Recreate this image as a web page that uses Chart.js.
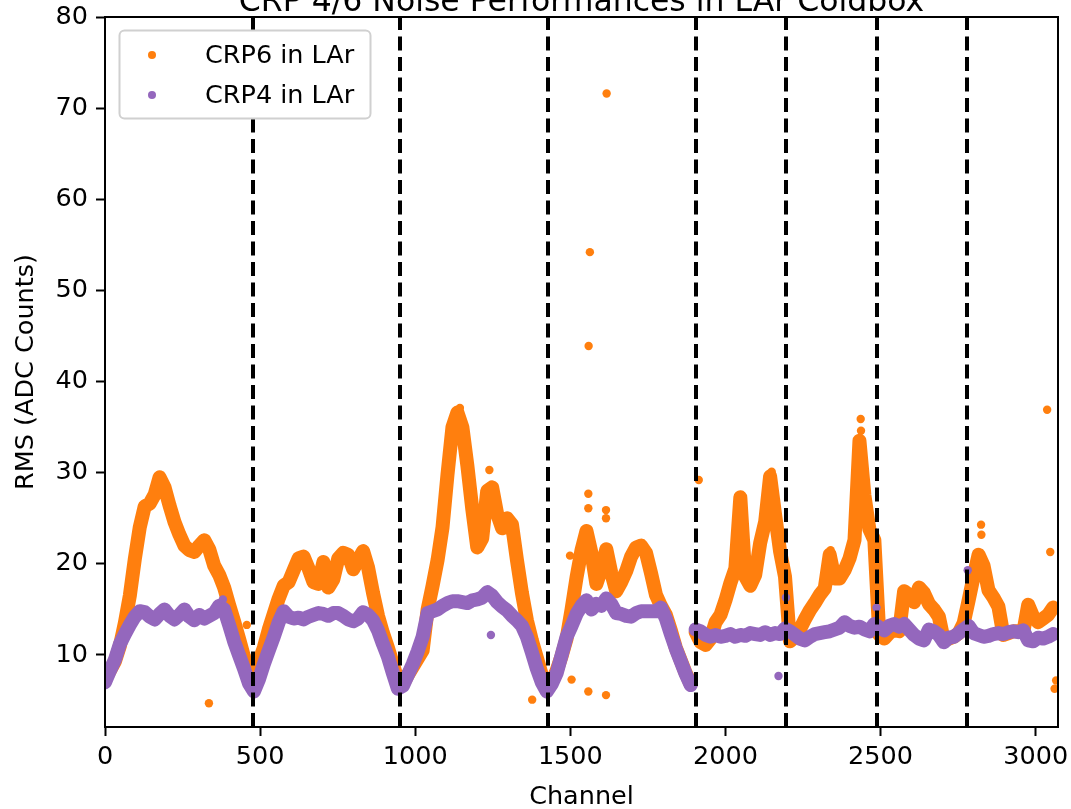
<!DOCTYPE html>
<html>
<head>
<meta charset="utf-8">
<title>CRP 4/6 Noise Performances in LAr Coldbox</title>
<script src="https://cdn.jsdelivr.net/npm/chart.js@4.4.1/dist/chart.umd.min.js"></script>
<style>
  html, body { margin: 0; padding: 0; background: #fff; }
  #wrap { width: 1071px; height: 809px; }
</style>
</head>
<body>
<div id="wrap"><canvas id="noise-chart" width="1071" height="809"></canvas></div>
<script>
// RMS per channel, one value every 16 channels (0 .. 3056)
const sampleStep = 16

const crp6Rms = [
  7.3, 8.3, 9.3, 11.0, 13.5, 16.5, 20.5, 24.0, 26.3, 26.6, 27.6, 29.5, 28.4, 26.4, 24.6, 23.2,
  22.0, 21.5, 21.3, 22.0, 22.6, 21.6, 19.8, 18.8, 17.4, 15.5, 13.7, 11.8, 9.8, 8.0, 7.0, 9.2,
  10.8, 12.8, 14.5, 16.2, 17.6, 18.0, 19.3, 20.6, 20.8, 19.5, 18.0, 17.8, 20.2, 17.4, 18.3, 20.6,
  21.2, 21.0, 19.4, 20.4, 21.4, 19.6, 16.8, 14.3, 12.4, 10.8, 9.0, 7.2, 6.8, 7.8, 8.7, 9.6,
  10.5, 15.0, 17.6, 20.4, 24.0, 29.8, 35.0, 36.6, 35.0, 30.8, 26.0, 21.8, 22.8, 28.0, 28.4, 25.5,
  23.9, 25.0, 24.3, 20.4, 16.8, 13.8, 11.6, 9.7, 7.8, 6.3, 7.0, 8.3, 9.9, 11.8, 15.0, 18.5,
  21.5, 23.6, 21.2, 17.8, 19.4, 21.6, 19.0, 17.0, 18.0, 19.2, 20.8, 21.8, 22.0, 21.2, 19.0, 16.6,
  15.4, 14.4, 12.7, 10.8, 9.4, 8.0, 6.8, 12.5, 11.4, 11.1, 11.8, 13.6, 14.4, 16.0, 17.9, 19.5,
  27.3, 18.6, 17.6, 18.8, 22.3, 24.6, 29.6, 25.4, 21.4, 18.6, 11.5, 12.0, 12.8, 13.9, 14.9, 15.7,
  16.6, 17.3, 21.0, 18.4, 18.4, 19.3, 20.6, 22.6, 33.5, 27.5, 23.8, 22.6, 12.2, 11.8, 12.4, 12.8,
  12.6, 17.0, 16.6, 15.8, 17.4, 16.8, 15.6, 15.0, 14.2, 11.6, 11.8, 12.0, 12.4, 13.5, 16.0, 18.6,
  21.0, 19.8, 17.1, 16.3, 15.3, 12.2, 12.4, 12.6, 12.6, 12.5, 15.5, 14.2, 13.6, 14.0, 14.4, 15.2
]

const crp4Rms = [
  7.0, 8.3, 9.5, 11.2, 12.3, 13.3, 14.2, 14.8, 14.7, 14.2, 13.9, 14.5, 15.0, 14.3, 13.9, 14.4,
  15.0, 14.2, 13.8, 14.4, 14.0, 14.3, 14.6, 15.4, 15.0, 13.3, 11.5, 10.0, 8.5, 6.9, 6.0, 7.3,
  9.0, 10.5, 12.0, 13.6, 14.8, 14.2, 14.0, 14.1, 13.9, 14.2, 14.4, 14.6, 14.5, 14.3, 14.6, 14.6,
  14.3, 13.9, 13.7, 14.0, 14.7, 14.4, 13.8, 12.7, 11.2, 9.8, 8.0, 6.3, 6.6, 7.8, 9.0, 10.4,
  12.0, 14.6, 14.8, 15.0, 15.4, 15.7, 15.9, 15.9, 15.8, 15.7, 16.0, 16.1, 16.3, 16.9, 16.5, 15.8,
  15.3, 14.9, 14.3, 13.8, 13.2, 12.0, 10.3, 8.5, 7.0, 6.0, 6.8, 8.0, 10.0, 12.0, 13.2, 14.5,
  15.4, 16.0, 15.0, 15.6, 15.4, 16.2, 15.6, 14.6, 14.5, 14.3, 14.2, 14.6, 14.8, 14.8, 14.8, 14.8,
  15.2, 14.0, 12.3, 10.7, 9.3, 7.9, 6.7, 12.8, 12.6, 12.2, 12.0, 12.2, 12.0, 12.1, 12.3, 12.0,
  12.2, 12.1, 12.4, 12.3, 12.2, 12.5, 12.2, 12.4, 12.3, 12.9, 12.6, 12.2, 11.8, 11.6, 12.0, 12.3,
  12.4, 12.5, 12.6, 12.8, 13.0, 13.6, 13.2, 13.0, 13.1, 12.8, 12.6, 13.4, 13.0, 12.7, 13.2, 13.4,
  13.1, 13.4, 12.8, 12.2, 11.8, 11.6, 12.8, 12.6, 12.2, 11.4, 11.9, 12.0, 12.4, 12.8, 13.2, 12.4,
  12.2, 12.0, 12.1, 12.3, 12.4, 12.3, 12.5, 12.6, 12.5, 12.7, 11.6, 11.5, 11.9, 11.8, 12.0, 12.3
]

// single noisy channels sitting off the bands: [channel, rms]
const crp6Outliers = [
  [335, 4.7], [457, 13.3], [1144, 37.1], [1239, 30.3], [1377, 5.1], [1499, 20.9], [1504, 7.3],
  [1558, 6.0], [1558, 26.1], [1558, 27.7], [1559, 43.9], [1563, 54.2],
  [1615, 5.6], [1615, 25.0], [1615, 25.9], [1617, 71.6], [1914, 29.2], [2149, 30.1],
  [2339, 21.5], [2436, 35.9], [2437, 34.6], [2824, 24.3], [2825, 23.2],
  [3037, 36.9], [3047, 21.3], [3061, 6.3], [3066, 7.2]
]
const crp4Outliers = [
  [380, 16.1], [1244, 12.2], [2171, 7.7], [2195, 16.3], [2487, 15.2], [2781, 19.3]
]

const planeEdges = [476, 952, 1428, 1904, 2196, 2488, 2780]
const collectionStart = 1904
const channelTicks = [0, 500, 1000, 1500, 2000, 2500, 3000]
const rmsTicks = [10, 20, 30, 40, 50, 60, 70, 80]
const seriesNames = ['CRP6 in LAr', 'CRP4 in LAr']
const seriesColors = ['#ff7f0e', '#9467bd']

const FONT = 'DejaVu Sans'

const toPoints = (values) => values.map((v, i) => ({ x: i * sampleStep, y: v }))
const toScatter = (pairs) => pairs.map(p => ({ x: p[0], y: p[1] }))

// no line across the induction -> collection jump
const breakAtCollection = (ctx) =>
  ctx.p0.parsed.x < collectionStart && ctx.p1.parsed.x >= collectionStart ? 'rgba(0,0,0,0)' : undefined

const bandDataset = (values, color, order) => ({
  data: toPoints(values),
  showLine: true,
  borderColor: color,
  backgroundColor: color,
  borderWidth: 14,
  borderCapStyle: 'round',
  borderJoinStyle: 'round',
  pointRadius: 0,
  tension: 0,
  clip: 0,
  order: order,
  segment: { borderColor: breakAtCollection }
})

const dotDataset = (pairs, color, order) => ({
  data: toScatter(pairs),
  showLine: false,
  backgroundColor: color,
  borderWidth: 0,
  pointRadius: 4.2,
  clip: 0,
  order: order
})

const decorations = {
  id: 'decorations',
  afterDatasetsDraw(chart) {
    const { ctx, chartArea: a, scales } = chart
    ctx.save()
    // plane boundaries
    ctx.strokeStyle = '#000'
    ctx.lineWidth = 4
    ctx.setLineDash([14, 6.5])
    planeEdges.forEach(ch => {
      const x = Math.round(scales.x.getPixelForValue(ch))
      ctx.beginPath()
      ctx.moveTo(x, a.bottom)
      ctx.lineTo(x, a.top)
      ctx.stroke()
    })
    ctx.setLineDash([])
    // frame
    ctx.lineWidth = 2
    ctx.strokeRect(a.left, a.top, a.right - a.left, a.bottom - a.top)
    ctx.restore()
  },
  afterDraw(chart) {
    const { ctx, chartArea: a } = chart
    const cx = (a.left + a.right) / 2
    ctx.save()
    ctx.fillStyle = '#000'
    ctx.textAlign = 'center'
    ctx.textBaseline = 'alphabetic'
    ctx.font = `31.5px "${FONT}"`
    ctx.fillText('CRP 4/6 Noise Performances in LAr Coldbox', cx, 11)
    ctx.font = `25.5px "${FONT}"`
    ctx.fillText('Channel', cx, 804)
    ctx.save()
    ctx.translate(33, (a.top + a.bottom) / 2)
    ctx.rotate(-Math.PI / 2)
    ctx.fillText('RMS (ADC Counts)', 0, 0)
    ctx.restore()

    // legend box
    ctx.beginPath()
    ctx.roundRect(119.5, 30.5, 251, 88, 5)
    ctx.fillStyle = '#fff'
    ctx.fill()
    ctx.strokeStyle = '#d0d0d0'
    ctx.lineWidth = 2
    ctx.stroke()
    ctx.textAlign = 'left'
    ctx.textBaseline = 'middle'
    seriesNames.forEach((name, i) => {
      const y = 55 + i * 40
      ctx.beginPath()
      ctx.arc(152, y, 4, 0, Math.PI * 2)
      ctx.fillStyle = seriesColors[i]
      ctx.fill()
      ctx.fillStyle = '#000'
      ctx.fillText(name, 205, y + 1)
    })
    ctx.restore()
  }
}

const tickFont = { family: FONT, size: 25.5 }

new Chart(document.getElementById('noise-chart').getContext('2d'), {
  type: 'scatter',
  data: {
    datasets: [
      bandDataset(crp6Rms, seriesColors[0], 4),
      dotDataset(crp6Outliers, seriesColors[0], 3),
      bandDataset(crp4Rms, seriesColors[1], 2),
      dotDataset(crp4Outliers, seriesColors[1], 1)
    ]
  },
  options: {
    responsive: false,
    devicePixelRatio: 1,
    animation: false,
    layout: { padding: { top: 17, right: 13, left: 0, bottom: 0 } },
    plugins: { legend: { display: false }, tooltip: { enabled: false } },
    scales: {
      x: {
        type: 'linear',
        min: 0,
        max: 3072,
        afterBuildTicks: s => { s.ticks = channelTicks.map(v => ({ value: v })) },
        afterFit: s => { s.height = 82; s.paddingLeft = 0; s.paddingRight = 0 },
        ticks: { font: tickFont, color: '#000', padding: 6, maxRotation: 0, autoSkip: false, callback: v => String(v) },
        grid: { drawOnChartArea: false, drawTicks: true, tickLength: 9, tickWidth: 2, tickColor: '#000' },
        border: { display: true, color: '#000', width: 2 }
      },
      y: {
        type: 'linear',
        min: 2.1,
        max: 80,
        afterBuildTicks: s => { s.ticks = rmsTicks.map(v => ({ value: v })) },
        afterFit: s => { s.width = 105; s.paddingTop = 0; s.paddingBottom = 0 },
        ticks: { font: tickFont, color: '#000', padding: 8, autoSkip: false, callback: v => String(v) },
        grid: { drawOnChartArea: false, drawTicks: true, tickLength: 9, tickWidth: 2, tickColor: '#000' },
        border: { display: true, color: '#000', width: 2 }
      }
    }
  },
  plugins: [decorations]
})
</script>
</body>
</html>
